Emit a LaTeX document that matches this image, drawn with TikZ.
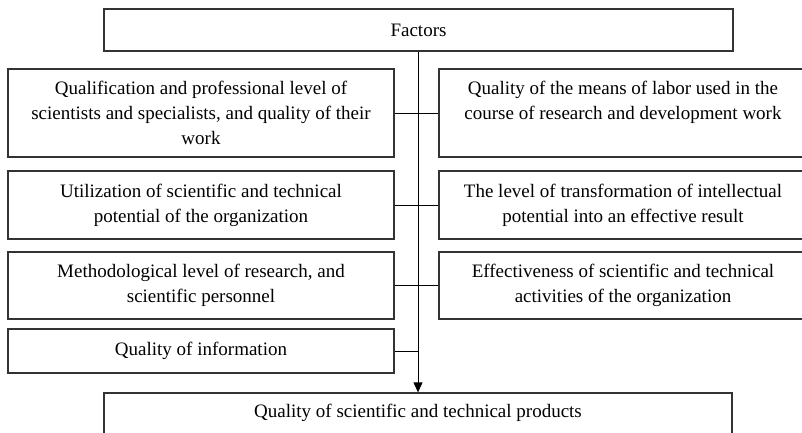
\documentclass[tikz,border=0pt]{standalone}
\usepackage{fontspec}
\setmainfont{Liberation Serif}
\usetikzlibrary{arrows.meta}
\begin{document}
\begin{tikzpicture}[
            x = 1pt, y = -1pt,
            every node/.style = {font=\fontsize{19}{25}\selectfont},
            factor/.style = {draw=black!80, line width=1.3pt, align=center, inner sep=0pt, minimum width=#1},
            link/.style = {draw=black, line width=0.9pt}]
            \clip (0,0) rectangle (802,433);
            \node[factor=629, minimum height=42] (factors) at (418.5,30) {Factors};
            \node[factor=386, minimum height=88] (qual) at (201,113)
                {Qualification and professional level of\\scientists and specialists, and quality of their\\work};
            \node[factor=368, minimum height=88] (means) at (623,113)
                {Quality of the means of labor used in the\\course of research and development work\\\mbox{}};
            \node[factor=386, minimum height=68] (util) at (201,205)
                {Utilization of scientific and technical\\potential of the organization};
            \node[factor=368, minimum height=68] (transf) at (623,205)
                {The level of transformation of intellectual\\potential into an effective result};
            \node[factor=386, minimum height=67] (method) at (201,285.5)
                {Methodological level of research, and\\scientific personnel};
            \node[factor=368, minimum height=67] (effect) at (623,285.5)
                {Effectiveness of scientific and technical\\activities of the organization};
            \node[factor=386, minimum height=44] (info) at (201,351) {Quality of information};
            \node[factor=628, minimum height=60] (result) at (418,423)
                {Quality of scientific and technical products\\\mbox{}};
            \draw[link, -{Triangle[width=9pt,length=10pt]}] (factors.south -| result.north) -- (result.north);
            \draw[link] (qual.east) -- (means.west);
            \draw[link] (util.east) -- (transf.west);
            \draw[link] (method.east) -- (effect.west);
            \draw[link] (info.east) -- (info.east -| result.north);
\end{tikzpicture}
\end{document}
